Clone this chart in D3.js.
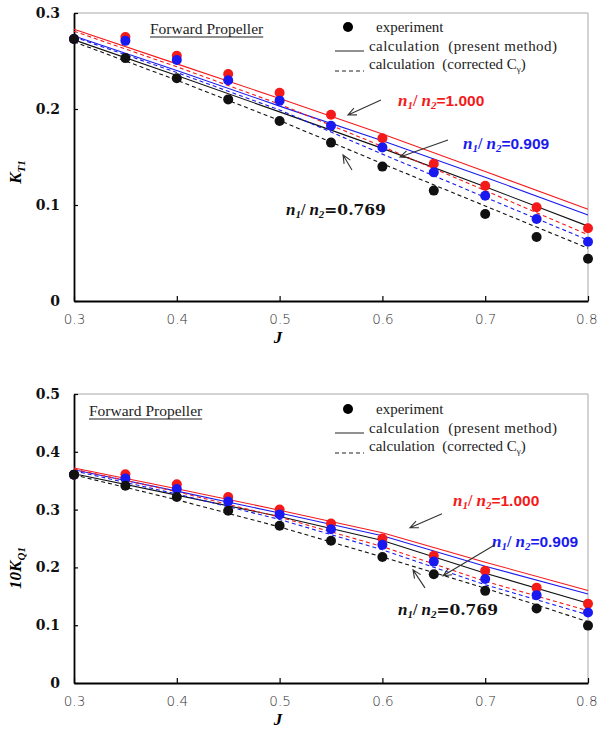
<!DOCTYPE html>
<html>
<head>
<meta charset="utf-8">
<style>
  body { margin: 0; background: #fff; }
  svg text { white-space: pre; }
</style>
<script src="https://d3js.org/d3.v7.min.js"></script>
</head>
<body>
<div id="chart"></div>
<script>
// advance coefficient
var jExp = [0.3, 0.35, 0.4, 0.45, 0.5, 0.55, 0.6, 0.65, 0.7, 0.75, 0.8];
var jCalc = [0.3, 0.4, 0.5, 0.6, 0.7, 0.8];
var xTicks = [0.3, 0.4, 0.5, 0.6, 0.7, 0.8];

// thrust KT1 - experiment
var ktExp1000 = [0.273, 0.275, 0.2555, 0.2365, 0.217, 0.194, 0.1695, 0.143, 0.120, 0.0976, 0.0757];
var ktExp0909 = [0.273, 0.271, 0.251, 0.230, 0.2087, 0.1826, 0.160, 0.134, 0.1097, 0.0854, 0.0618];
var ktExp0769 = [0.273, 0.253, 0.232, 0.210, 0.1875, 0.165, 0.140, 0.115, 0.0906, 0.0667, 0.044];
// thrust KT1 - calculation (present method)
var ktCalc1000 = [0.283, 0.247, 0.211, 0.174, 0.135, 0.0955];
var ktCalc0909 = [0.276, 0.240, 0.203, 0.167, 0.129, 0.0896];
var ktCalc0769 = [0.272, 0.235, 0.197, 0.159, 0.119, 0.078];
// thrust KT1 - calculation (corrected C gamma)
var ktCorr1000 = [0.281, 0.244, 0.205, 0.161, 0.115, 0.069];
var ktCorr0909 = [0.275, 0.238, 0.199, 0.153, 0.108, 0.0635];
var ktCorr0769 = [0.270, 0.230, 0.188, 0.143, 0.099, 0.055];
var ktTicks = [0, 0.1, 0.2, 0.3];

// torque 10KQ1 - experiment
var kqExp1000 = [0.3605, 0.361, 0.3437, 0.3218, 0.300, 0.276, 0.250, 0.220, 0.194, 0.165, 0.137];
var kqExp0909 = [0.3605, 0.354, 0.3357, 0.314, 0.2917, 0.266, 0.239, 0.210, 0.180, 0.152, 0.122];
var kqExp0769 = [0.3605, 0.3414, 0.3218, 0.298, 0.272, 0.246, 0.218, 0.188, 0.1594, 0.129, 0.0993];
// torque 10KQ1 - calculation (present method)
var kqCalc1000 = [0.372, 0.336, 0.299, 0.260, 0.209, 0.160];
var kqCalc0909 = [0.369, 0.332, 0.294, 0.2547, 0.202, 0.154];
var kqCalc0769 = [0.362, 0.325, 0.288, 0.2466, 0.190, 0.138];
// torque 10KQ1 - calculation (corrected C gamma)
var kqCorr1000 = [0.370, 0.331, 0.287, 0.236, 0.176, 0.125];
var kqCorr0909 = [0.367, 0.327, 0.283, 0.2305, 0.170, 0.118];
var kqCorr0769 = [0.360, 0.317, 0.270, 0.218, 0.164, 0.106];
var kqTicks = [0, 0.1, 0.2, 0.3, 0.4, 0.5];

var ratioNames = ["1.000", "0.909", "0.769"];
var ratioColors = ["#f51a1a", "#1a1af0", "#111111"];
var ratioFonts = ["Liberation Sans, Arial, sans-serif", "Liberation Sans, Arial, sans-serif", "DejaVu Serif, serif"];

var serif = "Liberation Serif, Times New Roman, serif";

var svg = d3.select("#chart").append("svg")
    .attr("width", 597)
    .attr("height", 732);

function drawPanel(opt) {
    var x = d3.scaleLinear().domain([0.3, 0.8]).range([74, 588]);
    var y = d3.scaleLinear().domain([0, opt.yMax]).range([opt.bottom, opt.top]);
    var g = svg.append("g");

    // frame: top and right in grey
    g.append("path")
        .attr("d", "M" + x(0.3) + "," + y(opt.yMax) + "H" + x(0.8) + "V" + y(0))
        .attr("fill", "none")
        .attr("stroke", "#a8a8a8")
        .attr("stroke-width", 1);

    // x axis
    var xa = g.append("g")
        .attr("transform", "translate(0," + y(0) + ")")
        .call(d3.axisBottom(x).tickValues(xTicks).tickSizeInner(-5).tickSizeOuter(0).tickFormat(d3.format(".1f")));
    xa.select(".domain").attr("stroke", "#000").attr("stroke-width", 1.8);
    xa.selectAll(".tick line").attr("stroke", "#000").attr("stroke-width", 1.2);
    xa.selectAll(".tick text")
        .attr("y", 13)
        .attr("font-family", "DejaVu Sans, sans-serif")
        .attr("font-weight", 200)
        .attr("font-size", 13.5)
        .attr("fill", "#333");
    // last label sits against the page edge
    xa.selectAll(".tick text").filter(function(d) { return d === 0.8; })
        .attr("text-anchor", "end")
        .attr("x", 9);

    // y axis
    var ya = g.append("g")
        .attr("transform", "translate(" + x(0.3) + ",0)")
        .call(d3.axisLeft(y).tickValues(opt.ticks).tickSizeInner(-4).tickSizeOuter(0).tickPadding(14)
            .tickFormat(function(d) { return d === 0 ? "0" : d3.format(".1f")(d); }));
    ya.select(".domain").attr("stroke", "#000").attr("stroke-width", 1.8);
    ya.selectAll(".tick line").attr("stroke", "#000").attr("stroke-width", 1.2);
    ya.selectAll(".tick text")
        .attr("font-family", "DejaVu Serif, serif")
        .attr("font-weight", "bold")
        .attr("font-size", 14)
        .attr("fill", "#111");

    // J label
    g.append("text")
        .attr("x", 278)
        .attr("y", y(0) + 42)
        .attr("text-anchor", "middle")
        .attr("font-family", serif)
        .attr("font-style", "italic")
        .attr("font-weight", "bold")
        .attr("font-size", 17)
        .text("J");

    // y label
    var yl = g.append("text")
        .attr("transform", "translate(21," + opt.yLabelY + ") rotate(-90)")
        .attr("text-anchor", "middle")
        .attr("font-family", serif)
        .attr("font-style", "italic")
        .attr("font-weight", "bold")
        .attr("font-size", 17);
    yl.append("tspan").text(opt.yLabelMain);
    yl.append("tspan").attr("font-size", 11).attr("dy", 4).text(opt.yLabelSub);

    var line = d3.line().x(function(d) { return x(d[0]); }).y(function(d) { return y(d[1]); });

    // calculated lines
    opt.calc.forEach(function(s, i) {
        g.append("path")
            .attr("d", line(d3.zip(jCalc, s)))
            .attr("fill", "none")
            .attr("stroke", ratioColors[i])
            .attr("stroke-width", 1.1);
    });
    opt.corr.forEach(function(s, i) {
        g.append("path")
            .attr("d", line(d3.zip(jCalc, s)))
            .attr("fill", "none")
            .attr("stroke", ratioColors[i])
            .attr("stroke-width", 1.1)
            .attr("stroke-dasharray", "4,3");
    });

    // experiment points: red, then blue, then black on top
    opt.exp.forEach(function(s, i) {
        g.selectAll(null)
            .data(d3.zip(jExp, s))
            .enter().append("circle")
            .attr("cx", function(d) { return x(d[0]); })
            .attr("cy", function(d) { return y(d[1]); })
            .attr("r", 5)
            .attr("fill", ratioColors[i]);
    });

    // title
    var ft = g.append("text")
        .attr("x", opt.titleX)
        .attr("y", opt.top + opt.titleDy)
        .attr("font-family", serif)
        .attr("font-size", 15.5)
        .attr("fill", "#222")
        .text("Forward Propeller");
    var tw = ft.node().getComputedTextLength();
    g.append("line")
        .attr("x1", opt.titleX).attr("x2", opt.titleX + tw)
        .attr("y1", opt.top + opt.titleDy + 3).attr("y2", opt.top + opt.titleDy + 3)
        .attr("stroke", "#222").attr("stroke-width", 1);

    // legend
    var ly = opt.top + opt.legendDy;
    g.append("circle").attr("cx", 348).attr("cy", ly).attr("r", 5).attr("fill", "#000");
    g.append("text").attr("x", 376).attr("y", ly + 5)
        .attr("font-family", serif).attr("font-size", 15).attr("fill", "#222")
        .text("experiment");
    g.append("line").attr("x1", 335).attr("x2", 364).attr("y1", ly + 24).attr("y2", ly + 24)
        .attr("stroke", "#222").attr("stroke-width", 1);
    g.append("text").attr("x", 369).attr("y", ly + 24)
        .attr("font-family", serif).attr("font-size", 15).attr("fill", "#222")
        .attr("textLength", 188).attr("lengthAdjust", "spacing")
        .text("calculation  (present method)");
    g.append("line").attr("x1", 335).attr("x2", 364).attr("y1", ly + 44).attr("y2", ly + 44)
        .attr("stroke", "#222").attr("stroke-width", 1.2).attr("stroke-dasharray", "4,3");
    var lt = g.append("text").attr("x", 369).attr("y", ly + 42)
        .attr("font-family", serif).attr("font-size", 15).attr("fill", "#222");
    lt.append("tspan").text("calculation  (corrected C");
    lt.append("tspan").attr("font-size", 9).attr("dy", 3).text("\u03b3");
    lt.append("tspan").attr("dy", -3).text(")");

    // ratio labels
    opt.labels.forEach(function(p, i) {
        var t = g.append("text")
            .attr("x", x(p[0]))
            .attr("y", y(p[1]))
            .attr("font-weight", "bold")
            .attr("fill", ratioColors[i]);
        t.append("tspan").attr("font-family", serif).attr("font-style", "italic").attr("font-size", 17).text("n");
        t.append("tspan").attr("font-family", serif).attr("font-style", "italic").attr("font-size", 11).attr("dy", 3).text("1");
        t.append("tspan").attr("font-family", serif).attr("font-size", 16).attr("dy", -3).text("/ ");
        t.append("tspan").attr("font-family", serif).attr("font-style", "italic").attr("font-size", 17).text("n");
        t.append("tspan").attr("font-family", serif).attr("font-style", "italic").attr("font-size", 11).attr("dy", 3).text("2");
        t.append("tspan").attr("font-family", ratioFonts[i]).attr("font-size", 15.5).attr("dy", -3).text("=" + ratioNames[i]);
    });

    // arrows
    opt.arrows.forEach(function(a) {
        var x1 = x(a[0]), y1 = y(a[1]), x2 = x(a[2]), y2 = y(a[3]);
        var ang = Math.atan2(y1 - y2, x1 - x2);
        var hl = 9, spread = 0.42;
        g.append("path")
            .attr("d", "M" + x1 + "," + y1 + "L" + x2 + "," + y2 +
                "M" + (x2 + hl * Math.cos(ang + spread)) + "," + (y2 + hl * Math.sin(ang + spread)) +
                "L" + x2 + "," + y2 +
                "L" + (x2 + hl * Math.cos(ang - spread)) + "," + (y2 + hl * Math.sin(ang - spread)))
            .attr("fill", "none")
            .attr("stroke", "#333")
            .attr("stroke-width", 1.1);
    });
}

drawPanel({
    top: 13, bottom: 301, yMax: 0.3, ticks: ktTicks,
    yLabelMain: "K", yLabelSub: "T1", yLabelY: 172,
    exp: [ktExp1000, ktExp0909, ktExp0769],
    calc: [ktCalc1000, ktCalc0909, ktCalc0769],
    corr: [ktCorr1000, ktCorr0909, ktCorr0769],
    titleX: 150, titleDy: 21, legendDy: 14,
    labels: [[0.6152, 0.2031], [0.6784, 0.1583], [0.5062, 0.0896]],
    arrows: [[0.5986, 0.2094, 0.5665, 0.1938], [0.6638, 0.1677, 0.6171, 0.150], [0.5704, 0.1365, 0.5617, 0.1521]]
});

drawPanel({
    top: 394, bottom: 683, yMax: 0.5, ticks: kqTicks,
    yLabelMain: "10K", yLabelSub: "Q1", yLabelY: 568,
    exp: [kqExp1000, kqExp0909, kqExp0769],
    calc: [kqCalc1000, kqCalc0909, kqCalc0769],
    corr: [kqCorr1000, kqCorr0909, kqCorr0769],
    titleX: 89, titleDy: 22, legendDy: 15,
    labels: [[0.6687, 0.3068], [0.7066, 0.2357], [0.6152, 0.1179]],
    arrows: [[0.658, 0.2929, 0.6268, 0.2686], [0.7095, 0.2392, 0.659, 0.1854], [0.6414, 0.1646, 0.6298, 0.1958]]
});
</script>
</body>
</html>
